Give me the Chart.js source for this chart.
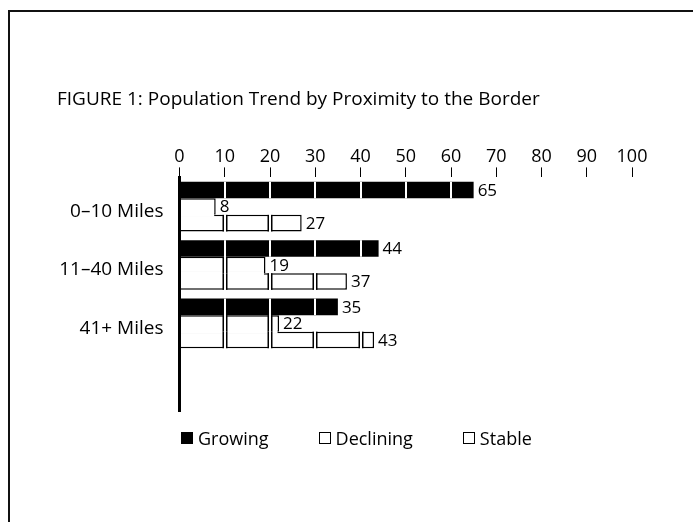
<!DOCTYPE html>
<html>
<head>
<meta charset="utf-8">
<script src="https://cdn.jsdelivr.net/npm/chart.js@4/dist/chart.umd.min.js"></script>
<style>
  html, body { margin: 0; padding: 0; background: #fff; }
  #wrap { position: relative; width: 693px; height: 522px; overflow: hidden; }
  #frame { position: absolute; left: 8px; top: 10px; right: -4px; bottom: -4px;
           border-top: 2px solid #111; border-left: 2px solid #111; }
  #chart { position: absolute; left: 0; top: 0; }
  #legend { position: absolute; left: 181px; top: 426px; display: flex; gap: 50px;
            font-family: "Open Sans", sans-serif; font-size: 18px; color: #000; }
  #legend span.item { display: flex; align-items: center; }
  #legend span.box { display: inline-block; width: 12px; height: 12px; margin-right: 5px;
                     box-sizing: border-box; }
</style>
</head>
<body>
<div id="wrap">
  <div id="frame"></div>
  <canvas id="chart" width="693" height="522"></canvas>
  <div id="legend"></div>
</div>
<script>
// values
const categories = ['0\u201310 Miles', '11\u201340 Miles', '41+ Miles', ''];
const growing = [65, 44, 35];
const declining = [8, 19, 22];
const stable = [27, 37, 43];
const xMin = 0, xMax = 100, xStep = 10;

const FONT = '"Open Sans", sans-serif';

// white/black breaks at every 10 units, like the printed bars
const segmentLines = {
  id: 'segmentLines',
  afterDatasetsDraw(chart) {
    const ctx = chart.ctx;
    const xs = chart.scales.x;
    const base = xs.getPixelForValue(0);

    // the two open bars of a group read as one outline where they overlap
    const dMeta = chart.getDatasetMeta(1), sMeta = chart.getDatasetMeta(2);
    dMeta.data.forEach((d, j) => {
      const s = sMeta.data[j];
      if (!s) return;
      const dp = d.getProps(['x', 'y', 'height'], true);
      const sp = s.getProps(['x', 'y', 'height'], true);
      const end = Math.min(dp.x, sp.x) - 1.5;
      const yTop = dp.y + dp.height / 2 - 2;
      const yBot = sp.y - sp.height / 2 + 2;
      ctx.save();
      ctx.fillStyle = '#fff';
      ctx.fillRect(base - 2, yTop, end - base + 2, yBot - yTop);
      ctx.restore();
    });

    chart.data.datasets.forEach((ds, i) => {
      chart.getDatasetMeta(i).data.forEach((bar, j) => {
        const v = ds.data[j];
        const p = bar.getProps(['y', 'height'], true);
        const top = p.y - p.height / 2, h = p.height;
        for (let t = xStep; t < v; t += xStep) {
          const px = Math.round(xs.getPixelForValue(t));
          ctx.save();
          ctx.fillStyle = '#fff';
          if (ds.backgroundColor === '#000') {
            ctx.fillRect(px - 1, top, 2, h);
          } else {
            ctx.fillRect(px - 1, top - 1, 2, h + 2);
            ctx.fillStyle = '#000';
            ctx.fillRect(px - 2.5, top, 1.5, h);
            ctx.fillRect(px + 1, top, 1.5, h);
          }
          ctx.restore();
        }
      });
    });
  }
};

// value printed just past the end of each bar
const endLabels = {
  id: 'endLabels',
  afterDatasetsDraw(chart) {
    const ctx = chart.ctx;
    ctx.save();
    ctx.font = '17px ' + FONT;
    ctx.fillStyle = '#000';
    ctx.textAlign = 'left';
    ctx.textBaseline = 'middle';
    chart.data.datasets.forEach((ds, i) => {
      chart.getDatasetMeta(i).data.forEach((bar, j) => {
        ctx.fillText(String(ds.data[j]), bar.x + 4, bar.y + 1);
      });
    });
    ctx.restore();
  }
};

const chart = new Chart(document.getElementById('chart'), {
  type: 'bar',
  data: {
    labels: categories,
    datasets: [
      { label: 'Growing', data: growing, backgroundColor: '#000', borderWidth: 0 },
      { label: 'Declining', data: declining, backgroundColor: '#fff', borderColor: '#000', borderWidth: 1.5 },
      { label: 'Stable', data: stable, backgroundColor: '#fff', borderColor: '#000', borderWidth: 1.5 }
    ]
  },
  options: {
    indexAxis: 'y',
    responsive: false,
    animation: false,
    categoryPercentage: 0.85,
    barPercentage: 1,
    layout: { padding: { left: 57, right: 61, top: 0, bottom: 111 } },
    scales: {
      x: {
        position: 'top',
        min: xMin,
        max: xMax,
        ticks: { stepSize: xStep, color: '#000', padding: 0, font: { family: FONT, size: 18 } },
        grid: { drawOnChartArea: false, tickLength: 10, color: '#000', lineWidth: 1 },
        border: { display: false }
      },
      y: {
        ticks: { color: '#000', padding: 16, labelOffset: 5, font: { family: FONT, size: 19 } },
        grid: { display: false, drawTicks: false },
        border: { display: true, color: '#000', width: 3, z: 1 },
        afterFit(scale) { scale.width = 122.5; }
      }
    },
    plugins: {
      legend: { display: false },
      tooltip: { enabled: false },
      title: {
        display: true,
        text: 'FIGURE 1: Population Trend by Proximity to the Border',
        align: 'start',
        color: '#000',
        font: { family: FONT, size: 19, weight: 'normal' },
        padding: { top: 88, bottom: 35 }
      }
    }
  },
  plugins: [segmentLines, endLabels]
});

// legend as plain html under the plot
const legend = document.getElementById('legend');
chart.data.datasets.forEach(ds => {
  const item = document.createElement('span');
  item.className = 'item';
  const box = document.createElement('span');
  box.className = 'box';
  box.style.background = ds.backgroundColor;
  box.style.border = '1.5px solid #000';
  item.appendChild(box);
  item.appendChild(document.createTextNode(ds.label));
  legend.appendChild(item);
});
</script>
</body>
</html>
